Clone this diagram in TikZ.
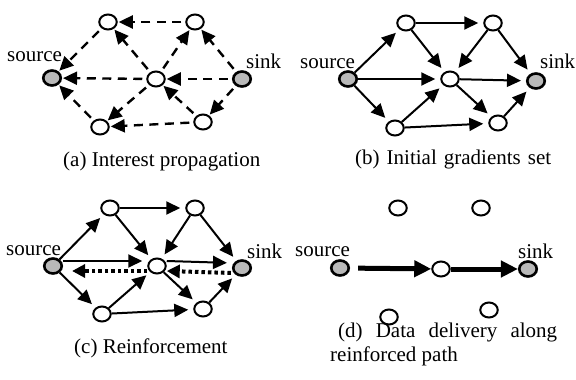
\documentclass[tikz,border=0pt]{standalone}
\usepackage{fontspec}
\setmainfont{Liberation Serif}
\usetikzlibrary{arrows.meta,shapes.geometric}
\begin{document}
\begin{tikzpicture}[x=1pt,y=-1pt,
  font=\fontsize{21}{25}\selectfont,
  relay/.style={ellipse,draw,line width=2pt,fill=white,minimum width=17.5pt,minimum height=15pt,inner sep=0pt},
  endpt/.style={relay,line width=2.6pt,fill=gray!55},
  lbl/.style={anchor=base west,inner sep=0pt},
  tip/.style={-{Triangle[length=14pt,width=13pt]}},
  interest/.style={tip,line width=2.4pt,dash pattern=on 9pt off 6.5pt,shorten <=4pt,shorten >=1pt},
  gradient/.style={tip,line width=2pt,shorten >=5pt},
  reinforce/.style={-{Triangle[length=13pt,width=13pt]},line width=4pt,dash pattern=on 3.5pt off 3pt},
  delivery/.style={-{Triangle[length=17pt,width=16pt]},line width=5pt},
]
\useasboundingbox (0,0) rectangle (576,380);

% ---------- (a) interest propagation ----------
\node[endpt] (aS)  at (52,78)   {};
\node[relay] (aTL) at (108,22)  {};
\node[relay] (aTR) at (195,22)  {};
\node[relay] (aC)  at (156,79)  {};
\node[endpt] (aK)  at (242,79)  {};
\node[relay] (aBL) at (100,127) {};
\node[relay] (aBR) at (203,122) {};
\node[lbl] (aSl) at (7,61)   {source};
\node[lbl] (aKl) at (246,68) {sink};
\draw[interest] (aTR) -- (aTL);
\draw[interest] (aTL) -- (aS);
\draw[interest] (aC)  -- (aS);
\draw[interest] (aBL) -- (aS);
\draw[interest] (aC)  -- (aTL);
\draw[interest] (aC)  -- (aTR);
\draw[interest] (aK)  -- (aTR);
\draw[interest] (aK)  -- (aC);
\draw[interest] (aK)  -- (aBR);
\draw[interest] (aC)  -- (aBL);
\draw[interest] (aBR) -- (aBL);
\draw[interest] (aBR) -- (aC);
\node[lbl] (aCap) at (63,166) {(a) Interest propagation};

% ---------- (b) initial gradients ----------
\node[endpt] (bS)  at (348,79)  {};
\node[relay] (bTL) at (406,23)  {};
\node[relay] (bTR) at (493,23)  {};
\node[relay] (bC)  at (450,79)  {};
\node[endpt] (bK)  at (536,81)  {};
\node[relay] (bBL) at (395,128) {};
\node[relay] (bBR) at (498,123) {};
\node[lbl] (bSl) at (300,68) {source};
\node[lbl] (bKl) at (540,68) {sink};
\draw[gradient] (bS)  -- (bTL);
\draw[gradient] (bS)  -- (bC);
\draw[gradient] (bS)  -- (bBL);
\draw[gradient] (bTL) -- (bTR);
\draw[gradient] (bTL) -- (bC);
\draw[gradient] (bTR) -- (bC);
\draw[gradient] (bTR) -- (bK);
\draw[gradient] (bC)  -- (bK);
\draw[gradient] (bC)  -- (bBR);
\draw[gradient] (bBL) -- (bC);
\draw[gradient] (bBL) -- (bBR);
\draw[gradient] (bBR) -- (bK);
\node[lbl] (bCap) at (355,164) {\makebox[196pt][s]{(b) Initial gradients set}};

% ---------- (c) reinforcement ----------
\node[endpt] (cS)  at (53,266)  {};
\node[relay] (cTL) at (110,208) {};
\node[relay] (cTR) at (195,208) {};
\node[relay] (cC)  at (157,266) {};
\node[endpt] (cK)  at (242,268) {};
\node[relay] (cBL) at (102,314) {};
\node[relay] (cBR) at (203,309) {};
\node[lbl] (cSl) at (6,255)   {source};
\node[lbl] (cKl) at (247,258) {sink};
\draw[gradient] (cS)  -- (cTL);
\draw[gradient] ([yshift=5pt]cS.east) -- ([yshift=5pt]cC.west);
\draw[gradient] (cS)  -- (cBL);
\draw[gradient] (cTL) -- (cTR);
\draw[gradient] (cTL) -- (cC);
\draw[gradient] (cTR) -- (cC);
\draw[gradient] (cTR) -- (cK);
\draw[gradient] ([yshift=5pt]cC.east) -- ([yshift=5pt]cK.west);
\draw[gradient] (cC)  -- (cBR);
\draw[gradient] (cBL) -- (cC);
\draw[gradient] (cBL) -- (cBR);
\draw[gradient] (cBR) -- (cK);
\draw[reinforce,shorten >=9pt] ([yshift=-5pt]cC.west) -- ([yshift=-5pt]cS.east);
\draw[reinforce,shorten <=1pt] ([yshift=-5pt]cK.west) -- ([yshift=-5pt]cC.east);
\node[lbl] (cCap) at (74,353) {(c) Reinforcement};

% ---------- (d) data delivery ----------
\node[endpt] (dS)  at (340,268) {};
\node[relay] (dTL) at (398,208) {};
\node[relay] (dTR) at (481,208) {};
\node[relay] (dC)  at (441,269) {};
\node[endpt] (dK)  at (528,269) {};
\node[relay] (dBL) at (389,317) {};
\node[relay] (dBR) at (489,310) {};
\node[lbl] (dSl) at (295,256) {source};
\node[lbl] (dKl) at (518,258) {sink};
\draw[delivery,shorten <=8pt] (dS) -- (dC);
\draw[delivery] (dC) -- (dK);
\node[lbl] (dCap1) at (338,337) {\makebox[219pt][s]{(d) Data delivery along}};
\node[lbl] (dCap2) at (330,361) {reinforced path};
\end{tikzpicture}
\end{document}
